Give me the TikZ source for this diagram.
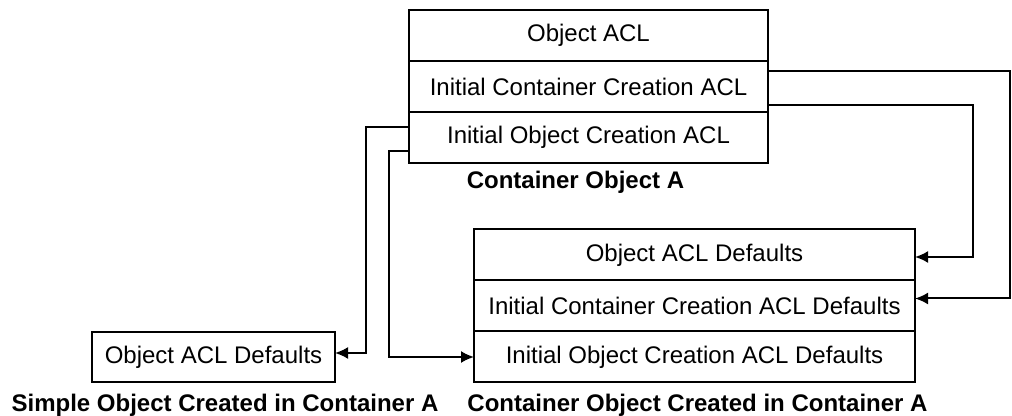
\documentclass[tikz,border=0pt]{standalone}
\usepackage{fontspec}
\setmainfont{Liberation Sans}
\usetikzlibrary{positioning,arrows.meta}
\begin{document}
\begin{tikzpicture}[x=0.5pt,y=-0.5pt,>={Latex[length=6.5pt,width=6pt]},line width=1pt,
    font=\fontsize{12}{14}\selectfont,
    acl/.style={draw, rectangle, outer sep=0pt, inner sep=0pt, minimum height=25.5pt},
    title/.style={font=\fontsize{12}{14}\selectfont\bfseries}]
        \useasboundingbox (0,0) rectangle (1012,416);
        % container object A
        \node (coa1) [acl, minimum width=179.5pt] at (588.5,35.5) {Object ACL};
        \node (coa2) [acl, below=0pt of coa1, minimum width=179.5pt] {Initial Container Creation ACL};
        \node (coa3) [acl, below=0pt of coa2, minimum width=179.5pt] {Initial Object Creation ACL};
        \node (lblcoa) [title] at (575.5,182) {Container Object A};
        % container object created in A
        \node (cc1) [acl, minimum width=220.5pt] at (694.5,255) {Object ACL Defaults};
        \node (cc2) [acl, below=0pt of cc1, minimum width=220.5pt] {Initial Container Creation ACL Defaults};
        \node (cc3) [acl, below=0pt of cc2, minimum width=220.5pt] {Initial Object Creation ACL Defaults};
        \node (lblcc) [title] at (697.5,405) {Container Object Created in Container A};
        % simple object created in A
        \node (sim) [acl, minimum width=121.5pt, minimum height=25pt] at (213.5,357) {Object ACL Defaults};
        \node (lblsim) [title] at (225,405) {Simple Object Created in Container A};

        \draw[->] ([yshift=-5pt]coa2.north east) -- ++(121pt,0) |- ([yshift=3.75pt]cc2.east);
        \draw[->] ([yshift=3.5pt]coa2.south east) -- ++(102.5pt,0) |- ([yshift=-1pt]cc1.east);
        \draw[->] ([yshift=-7.5pt]coa3.north west) -- ++(-21.5pt,0) |- ([yshift=2pt]sim.east);
        \draw[->] ([yshift=6pt]coa3.south west) -- ++(-10pt,0) |- (cc3.west);
    \end{tikzpicture}
\end{document}
